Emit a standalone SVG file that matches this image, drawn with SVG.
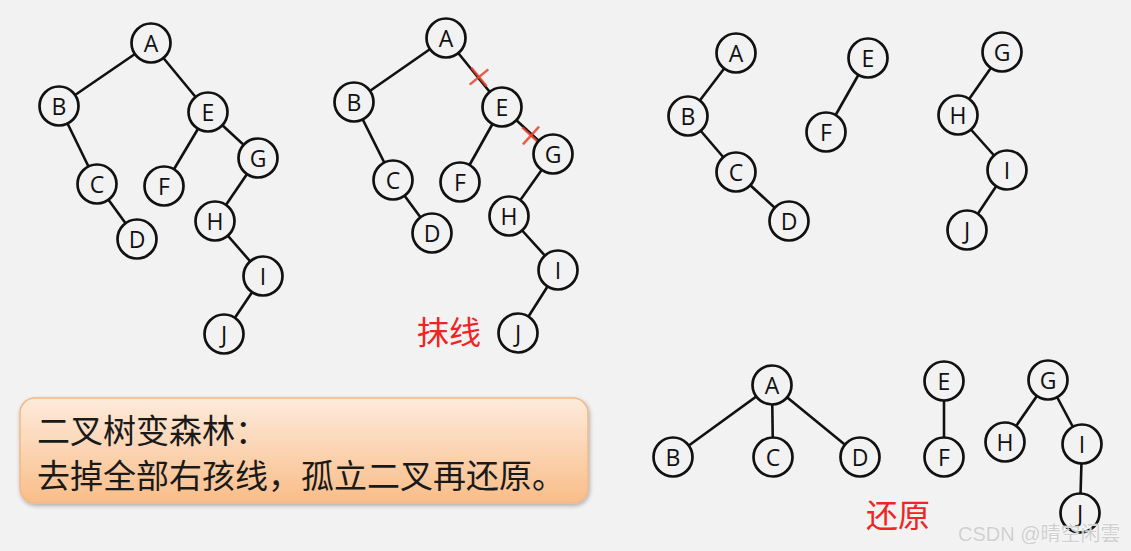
<svg xmlns="http://www.w3.org/2000/svg" width="1131" height="551" viewBox="0 0 1131 551">
<style>
.n circle{fill:#f2f2f2;stroke:#111;stroke-width:2.7}
.n text{font-family:"Open Sans","Noto Sans",sans-serif;font-size:23px;fill:#111;text-anchor:middle;dominant-baseline:central}
.e line{stroke:#111;stroke-width:2.6}
.r line{stroke:#e8432a;stroke-width:2.5;stroke-opacity:0.85}
.red{font-family:"Noto Sans CJK SC",sans-serif;font-size:32px;fill:#f02424}
.box{font-family:"Noto Sans CJK SC",sans-serif;font-size:33px;fill:#1a1a1a}
</style>
<defs>
<linearGradient id="bg" x1="0" y1="0" x2="0" y2="1">
<stop offset="0" stop-color="#fdebdc"/>
<stop offset="1" stop-color="#f9bd88"/>
</linearGradient>
<filter id="sh" x="-5%" y="-10%" width="110%" height="130%">
<feGaussianBlur in="SourceAlpha" stdDeviation="2"/>
<feOffset dx="1" dy="2" result="b"/>
<feComponentTransfer><feFuncA type="linear" slope="0.3"/></feComponentTransfer>
<feMerge><feMergeNode/><feMergeNode in="SourceGraphic"/></feMerge>
</filter>
</defs>
<rect width="1131" height="551" fill="#f2f2f2"/>

<g id="connectors">
<g class="e">
<line x1="151" y1="43" x2="59" y2="106"/>
<line x1="151" y1="43" x2="208" y2="112"/>
<line x1="59" y1="106" x2="97" y2="184"/>
<line x1="97" y1="184" x2="137" y2="239"/>
<line x1="208" y1="112" x2="164" y2="186"/>
<line x1="208" y1="112" x2="258" y2="158"/>
<line x1="258" y1="158" x2="215" y2="221"/>
<line x1="215" y1="221" x2="263" y2="276"/>
<line x1="263" y1="276" x2="224" y2="334"/>
<line x1="446" y1="38" x2="354" y2="102"/>
<line x1="446" y1="38" x2="502" y2="107"/>
<line x1="354" y1="102" x2="393" y2="180"/>
<line x1="393" y1="180" x2="432" y2="233"/>
<line x1="502" y1="107" x2="460" y2="182"/>
<line x1="502" y1="107" x2="553" y2="154"/>
<line x1="553" y1="154" x2="509" y2="216"/>
<line x1="509" y1="216" x2="558" y2="270"/>
<line x1="558" y1="270" x2="518" y2="333"/>
<line x1="736" y1="53" x2="688" y2="116"/>
<line x1="688" y1="116" x2="736" y2="172"/>
<line x1="736" y1="172" x2="789" y2="221"/>
<line x1="868" y1="58" x2="826" y2="132"/>
<line x1="1002" y1="52" x2="958" y2="115"/>
<line x1="958" y1="115" x2="1007" y2="170"/>
<line x1="1007" y1="170" x2="967" y2="230"/>
<line x1="772" y1="385" x2="673" y2="457"/>
<line x1="772" y1="385" x2="773" y2="457"/>
<line x1="772" y1="385" x2="860" y2="457"/>
<line x1="944" y1="381" x2="944" y2="457"/>
<line x1="1048" y1="380" x2="1005" y2="442"/>
<line x1="1048" y1="380" x2="1082" y2="444"/>
<line x1="1082" y1="444" x2="1080" y2="513"/>
</g>
<g class="r">
<line x1="471.4" y1="67.7" x2="486.6" y2="86.3"/>
<line x1="469.7" y1="84.6" x2="488.3" y2="69.4"/>
<line x1="522.2" y1="127.4" x2="539.8" y2="143.6"/>
<line x1="522.9" y1="144.3" x2="539.1" y2="126.7"/>
</g>
</g>

<g id="t1-A" class="n"><circle cx="151" cy="43" r="19.5"/><text x="151" y="43">A</text></g>
<g id="t1-B" class="n"><circle cx="59" cy="106" r="19.5"/><text x="59" y="106">B</text></g>
<g id="t1-C" class="n"><circle cx="97" cy="184" r="19.5"/><text x="97" y="184">C</text></g>
<g id="t1-D" class="n"><circle cx="137" cy="239" r="19.5"/><text x="137" y="239">D</text></g>
<g id="t1-E" class="n"><circle cx="208" cy="112" r="19.5"/><text x="208" y="112">E</text></g>
<g id="t1-F" class="n"><circle cx="164" cy="186" r="19.5"/><text x="164" y="186">F</text></g>
<g id="t1-G" class="n"><circle cx="258" cy="158" r="19.5"/><text x="258" y="158">G</text></g>
<g id="t1-H" class="n"><circle cx="215" cy="221" r="19.5"/><text x="215" y="221">H</text></g>
<g id="t1-I" class="n"><circle cx="263" cy="276" r="19.5"/><text x="263" y="276">I</text></g>
<g id="t1-J" class="n"><circle cx="224" cy="334" r="19.5"/><text x="224" y="334">J</text></g>

<g id="t2-A" class="n"><circle cx="446" cy="38" r="19.5"/><text x="446" y="38">A</text></g>
<g id="t2-B" class="n"><circle cx="354" cy="102" r="19.5"/><text x="354" y="102">B</text></g>
<g id="t2-C" class="n"><circle cx="393" cy="180" r="19.5"/><text x="393" y="180">C</text></g>
<g id="t2-D" class="n"><circle cx="432" cy="233" r="19.5"/><text x="432" y="233">D</text></g>
<g id="t2-E" class="n"><circle cx="502" cy="107" r="19.5"/><text x="502" y="107">E</text></g>
<g id="t2-F" class="n"><circle cx="460" cy="182" r="19.5"/><text x="460" y="182">F</text></g>
<g id="t2-G" class="n"><circle cx="553" cy="154" r="19.5"/><text x="553" y="154">G</text></g>
<g id="t2-H" class="n"><circle cx="509" cy="216" r="19.5"/><text x="509" y="216">H</text></g>
<g id="t2-I" class="n"><circle cx="558" cy="270" r="19.5"/><text x="558" y="270">I</text></g>
<g id="t2-J" class="n"><circle cx="518" cy="333" r="19.5"/><text x="518" y="333">J</text></g>

<g id="t3-A" class="n"><circle cx="736" cy="53" r="19.5"/><text x="736" y="53">A</text></g>
<g id="t3-B" class="n"><circle cx="688" cy="116" r="19.5"/><text x="688" y="116">B</text></g>
<g id="t3-C" class="n"><circle cx="736" cy="172" r="19.5"/><text x="736" y="172">C</text></g>
<g id="t3-D" class="n"><circle cx="789" cy="221" r="19.5"/><text x="789" y="221">D</text></g>
<g id="t3-E" class="n"><circle cx="868" cy="58" r="19.5"/><text x="868" y="58">E</text></g>
<g id="t3-F" class="n"><circle cx="826" cy="132" r="19.5"/><text x="826" y="132">F</text></g>
<g id="t3-G" class="n"><circle cx="1002" cy="52" r="19.5"/><text x="1002" y="52">G</text></g>
<g id="t3-H" class="n"><circle cx="958" cy="115" r="19.5"/><text x="958" y="115">H</text></g>
<g id="t3-I" class="n"><circle cx="1007" cy="170" r="19.5"/><text x="1007" y="170">I</text></g>
<g id="t3-J" class="n"><circle cx="967" cy="230" r="19.5"/><text x="967" y="230">J</text></g>

<g id="t4-A" class="n"><circle cx="772" cy="385" r="19.5"/><text x="772" y="385">A</text></g>
<g id="t4-B" class="n"><circle cx="673" cy="457" r="19.5"/><text x="673" y="457">B</text></g>
<g id="t4-C" class="n"><circle cx="773" cy="457" r="19.5"/><text x="773" y="457">C</text></g>
<g id="t4-D" class="n"><circle cx="860" cy="457" r="19.5"/><text x="860" y="457">D</text></g>
<g id="t4-E" class="n"><circle cx="944" cy="381" r="19.5"/><text x="944" y="381">E</text></g>
<g id="t4-F" class="n"><circle cx="944" cy="457" r="19.5"/><text x="944" y="457">F</text></g>
<g id="t4-G" class="n"><circle cx="1048" cy="380" r="19.5"/><text x="1048" y="380">G</text></g>
<g id="t4-H" class="n"><circle cx="1005" cy="442" r="19.5"/><text x="1005" y="442">H</text></g>
<g id="t4-I" class="n"><circle cx="1082" cy="444" r="19.5"/><text x="1082" y="444">I</text></g>
<g id="t4-J" class="n"><circle cx="1080" cy="513" r="19.5"/><text x="1080" y="513">J</text></g>

<text class="red" x="417" y="344">抹线</text>
<text class="red" x="866" y="527">还原</text>

<g id="note">
<rect x="20" y="398" width="568" height="105" rx="15" ry="15" fill="url(#bg)" stroke="#f3b887" stroke-width="1.5" filter="url(#sh)"/>
<text class="box" x="37" y="443">二叉树变森林：</text>
<text class="box" x="37" y="488">去掉全部右孩线，孤立二叉再还原。</text>
</g>

<text x="958" y="541" font-family="'Liberation Sans','Noto Sans CJK SC',sans-serif" font-size="20" fill="#cfcfcf" stroke="#ffffff" stroke-width="0.6" paint-order="stroke">CSDN @晴空闲雲</text>
</svg>
